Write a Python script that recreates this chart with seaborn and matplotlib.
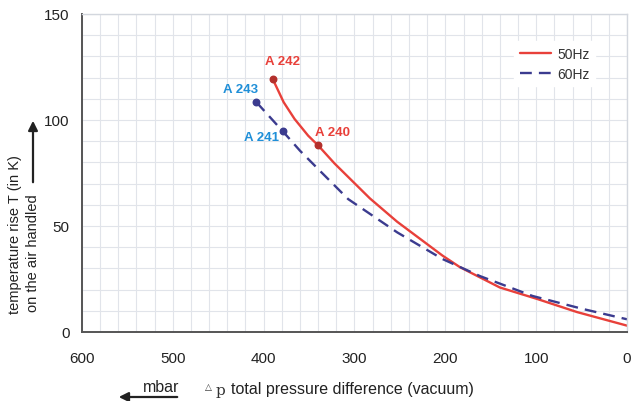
import matplotlib
matplotlib.use("Agg")
import matplotlib.pyplot as plt
import seaborn as sns
import pandas as pd

# -------------------------
# Data
# -------------------------
p_50hz = [390, 378, 366, 351, 340, 322, 283, 253, 203, 184, 140, 99, 55, 0]
t_50hz = [119.3, 108.4, 100.5, 92.6, 88, 79.5, 63, 52, 36, 30.6, 21, 15.6, 9.4, 3]

p_60hz = [408, 379, 360, 338, 307, 253, 203, 162, 104, 48, 0]
t_60hz = [108.4, 94.7, 85.5, 76, 62.7, 47, 34.4, 26.4, 17, 10.8, 6]

models = ["A 242", "A 240", "A 243", "A 241"]
model_p = [390, 340, 408, 379]
model_t = [119.3, 88, 108.4, 94.7]
model_series = ["50Hz", "50Hz", "60Hz", "60Hz"]

x_ticks = [600, 500, 400, 300, 200, 100, 0]
y_ticks = [0, 50, 100, 150]

df = pd.concat([
    pd.DataFrame({"p": p_50hz, "t": t_50hz, "series": "50Hz"}),
    pd.DataFrame({"p": p_60hz, "t": t_60hz, "series": "60Hz"}),
])

# -------------------------
# Style
# -------------------------
sns.set_style("white")
plt.rcParams["font.family"] = ["Liberation Sans", "DejaVu Sans"]

RED = "#e8403a"
NAVY = "#3b3b8f"
RED_DOT = "#b3302c"
BLUE_TXT = "#1f8fd8"
GRID = "#e1e4ea"

fig = plt.figure(figsize=(6.35, 4.02), dpi=100)
ax = fig.add_axes([82 / 635, 69 / 402, 545 / 635, 318 / 402])

sns.lineplot(data=df, x="p", y="t", hue="series", style="series",
             palette={"50Hz": RED, "60Hz": NAVY},
             dashes={"50Hz": "", "60Hz": (5, 3)},
             linewidth=1.7, sort=False, estimator=None, ax=ax)

# model points + labels
offsets = [(10, 18), (14, 13), (-16, 13), (-21, -6)]
for name, px, ty, s, off in zip(models, model_p, model_t, model_series, offsets):
    dot = RED_DOT if s == "50Hz" else NAVY
    txt = RED if s == "50Hz" else BLUE_TXT
    ax.scatter([px], [ty], s=22, color=dot, zorder=5)
    ax.annotate(name, (px, ty), xytext=off, textcoords="offset pixels",
                ha="center", va="center", color=txt, fontsize=9.5,
                fontweight="bold")

# -------------------------
# Axes
# -------------------------
ax.set_xlim(600, 0)
ax.set_ylim(0, 150)
ax.set_xticks(x_ticks)
ax.set_yticks(y_ticks)
ax.set_xticks(range(0, 601, 20), minor=True)
ax.set_yticks(range(0, 151, 10), minor=True)
ax.grid(which="both", color=GRID, linewidth=0.8)
ax.set_axisbelow(True)
ax.tick_params(axis="both", which="minor", length=0)
ax.tick_params(axis="both", which="major", direction="out", length=4,
               width=1, color="#555555", labelsize=11, labelcolor="#222222")
ax.tick_params(axis="x", pad=10)
ax.tick_params(axis="y", pad=5)
ax.set_xlabel("")
ax.set_ylabel("")

for side in ["left", "bottom"]:
    ax.spines[side].set_color("#555555")
    ax.spines[side].set_linewidth(1.4)
for side in ["top", "right"]:
    ax.spines[side].set_color("#d3d7de")
    ax.spines[side].set_linewidth(1.0)

leg = ax.legend(loc="upper left", bbox_to_anchor=(507 / 635, 1 - 35 / 402),
                bbox_transform=fig.transFigure, frameon=True, fontsize=10,
                handlelength=2.3, handletextpad=0.4, labelspacing=0.45,
                borderpad=0.4)
leg.get_frame().set_facecolor("white")
leg.get_frame().set_edgecolor("white")
leg.get_frame().set_alpha(1)
for t in leg.get_texts():
    t.set_color("#333333")

# -------------------------
# Axis titles with arrows
# -------------------------
fig.text(15 / 635, 88 / 402, "temperature rise T (in K)", rotation=90,
         ha="center", va="bottom", fontsize=10.5, color="#222222")
fig.text(33 / 635, 90 / 402, "on the air handled", rotation=90,
         ha="center", va="bottom", fontsize=10.5, color="#222222")
ax.annotate("", xy=(33, 402 - 119), xytext=(33, 402 - 186),
            xycoords="figure pixels", textcoords="figure pixels",
            arrowprops=dict(arrowstyle="-|>", color="#222222", lw=1.6,
                            mutation_scale=14))

fig.text(205 / 635, 14 / 402, "\u25b3", fontsize=6.5, color="#333333",
         ha="left", va="center")
fig.text(216 / 635, 11 / 402, "p", fontsize=11, color="#333333",
         family="DejaVu Serif", ha="left", va="center")
fig.text(231 / 635, 12 / 402, "total pressure difference (vacuum)",
         fontsize=11.5, color="#222222", ha="left", va="center")
fig.text(161 / 635, 14 / 402, "mbar", fontsize=11.5, color="#222222",
         ha="center", va="center")
ax.annotate("", xy=(116, 4), xytext=(180, 4),
            xycoords="figure pixels", textcoords="figure pixels",
            arrowprops=dict(arrowstyle="-|>", color="#222222", lw=1.6,
                            mutation_scale=14))

fig.savefig("out.png", dpi=100)
plt.close()
